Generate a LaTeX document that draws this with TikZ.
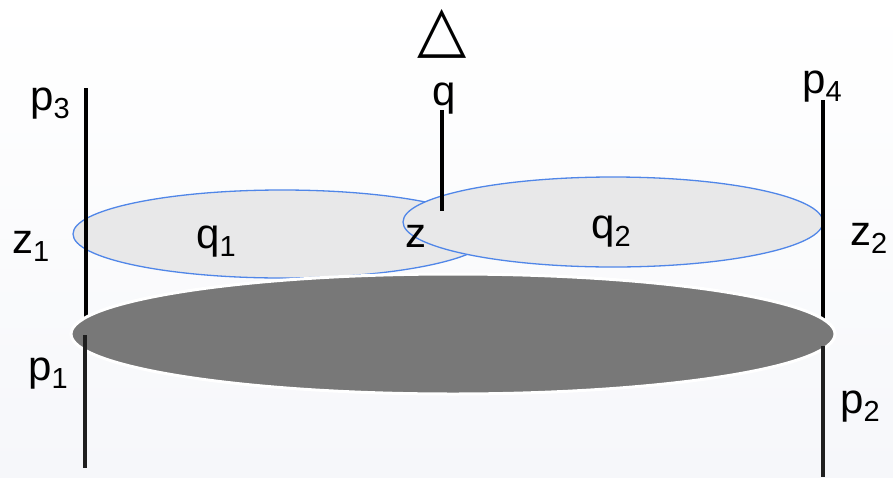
\documentclass[tikz,border=0pt]{standalone}
\usepackage{fontspec}
\setmainfont{Liberation Sans}
\newfontfamily\symfont{DejaVu Sans}
\usetikzlibrary{shapes.geometric}
\definecolor{blob}{RGB}{232,232,233}
\definecolor{rim}{RGB}{80,134,232}
\definecolor{dark}{RGB}{120,120,120}
\definecolor{bgb}{RGB}{246,247,250}
\newcommand\mylbl[2]{\fontsize{42}{42}\selectfont #1\lower8pt\hbox{\fontsize{29}{29}\selectfont #2}}
\begin{document}
\begin{tikzpicture}[x=1pt,y=-1pt,
  loop/.style={ellipse, draw=rim, line width=1.3pt, fill=blob, inner sep=0pt},
  blobshape/.style={ellipse, draw=white, line width=3pt, fill=dark, inner sep=0pt},
  leg/.style={line width=3.8pt, black},
  lowleg/.style={line width=3.6pt, black!88},
  lab/.style={anchor=base west, inner sep=0pt, font=\fontsize{42}{42}\selectfont}]
\shade[top color=white, bottom color=bgb] (0,0) rectangle (893,477);
\useasboundingbox (0,0) rectangle (893,477);
% loops
\node[loop, minimum width=418pt, minimum height=88pt] (q1) at (282,234) {};
\node[loop, minimum width=420pt, minimum height=90pt] (q2) at (613,222) {};
% upper legs
\coordinate (p3t) at (86,88);  \coordinate (p3b) at (86,322);
\coordinate (p4t) at (823,100); \coordinate (p4b) at (823,322);
\coordinate (qt) at (442,110); \coordinate (qb) at (442,211);
\draw[leg] (p3t) -- (p3b);
\draw[leg] (p4t) -- (p4b);
\draw[leg] (qt) -- (qb);
% blob
\node[blobshape, minimum width=764pt, minimum height=120pt] (blob) at (453,334) {};
% lower legs
\coordinate (p1t) at (85,335);  \coordinate (p1b) at (85,468);
\coordinate (p2t) at (823,346); \coordinate (p2b) at (823,477);
\draw[lowleg] (p1t) -- (p1b);
\draw[lowleg] (p2t) -- (p2b);
% labels
\node[inner sep=0pt, anchor=base, font=\symfont\fontsize{64}{64}\selectfont] (tri) at (442,50) {△};
\node[lab] (lp3) at (30,110) {\mylbl{p}{3}};
\node[lab] (lq) at (432,105) {q};
\node[lab] (lp4) at (802,93) {\mylbl{p}{4}};
\node[lab] (lz1) at (12,253) {\mylbl{z}{1}};
\node[lab] (lz) at (405,247) {z};
\node[lab] (lq1) at (196,248) {\mylbl{q}{1}};
\node[lab] (lq2) at (591,238) {\mylbl{q}{2}};
\node[lab] (lz2) at (850,245) {\mylbl{z}{2}};
\node[lab] (lp1) at (28,380) {\mylbl{p}{1}};
\node[lab] (lp2) at (840,413) {\mylbl{p}{2}};
\end{tikzpicture}
\end{document}
